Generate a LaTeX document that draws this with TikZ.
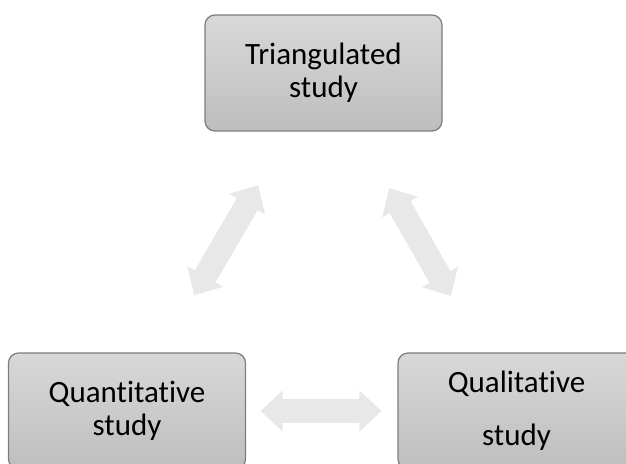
\documentclass[tikz,border=0pt]{standalone}
\usepackage{fontspec}
\setmainfont[Ligatures=NoCommon]{Carlito}
\usetikzlibrary{arrows.meta}

\definecolor{boxtop}{RGB}{216,216,216}
\definecolor{boxbot}{RGB}{190,190,190}
\definecolor{boxline}{RGB}{125,125,125}
\definecolor{arrowgray}{RGB}{232,232,232}

\tikzset{
    studybox/.style={draw=boxline, line width=1.2pt, rounded corners=10pt,
        top color=boxtop, bottom color=boxbot,
        minimum width=237pt, minimum height=116pt, inner sep=0pt,
        align=center, font=\fontsize{31}{33}\selectfont},
    link/.style={draw=arrowgray, line width=24pt,
        {Triangle[length=22pt,width=40pt]}-{Triangle[length=22pt,width=40pt]}}
}

\begin{document}
\begin{tikzpicture}[x=1pt, y=-1pt]
                \useasboundingbox (0, 0) rectangle (626, 463);

                \node[studybox] (tri) at (323.5, 73) {Triangulated\\study};
                \node[studybox] (quan) at (127, 411) {Quantitative\\study};
                \node[studybox] (qual) at (516.5, 411) {Qualitative\\[20pt]study};

                \draw[link, shorten <=62pt, shorten >=66pt] (tri) -- (quan);
                \draw[link, shorten <=65pt, shorten >=65pt] (tri) -- (qual);
                \draw[link, shorten <=14.5pt, shorten >=16pt] (quan) -- (qual);
            \end{tikzpicture}
\end{document}
